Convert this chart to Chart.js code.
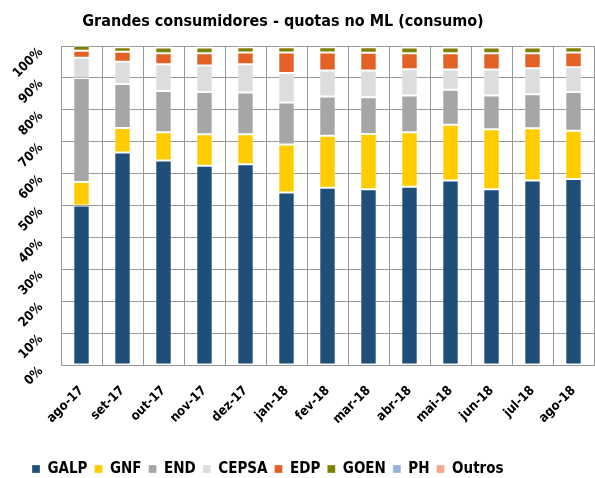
<!DOCTYPE html>
<html>
<head>
<meta charset="utf-8">
<script src="https://cdn.jsdelivr.net/npm/chart.js@4"></script>
<style>
html,body{margin:0;padding:0;background:#fff;}
#wrap{width:595px;height:478px;}
</style>
</head>
<body>
<div id="wrap"><canvas id="c" width="595" height="478"></canvas></div>
<script>
const categories = ['ago-17','set-17','out-17','nov-17','dez-17','jan-18','fev-18','mar-18','abr-18','mai-18','jun-18','jul-18','ago-18'];
const GALP   = [50.0, 66.6, 64.1, 62.5, 62.9, 54.1, 55.6, 55.1, 55.9, 57.8, 55.1, 57.8, 58.3];
const GNF    = [ 7.4,  7.7,  8.9,  9.8,  9.4, 15.0, 16.3, 17.3, 17.1, 17.5, 18.8, 16.4, 15.1];
const END    = [32.6, 13.8, 12.9, 13.3, 13.1, 13.2, 12.3, 11.5, 11.5, 11.0, 10.6, 10.7, 12.2];
const CEPSA  = [ 6.3,  7.0,  8.4,  8.3,  8.9,  9.2,  8.1,  8.4,  8.2,  6.3,  8.1,  8.1,  7.7];
const EDP    = [ 2.2,  3.1,  3.4,  3.8,  3.7,  6.5,  5.7,  5.6,  5.0,  5.1,  5.1,  4.7,  4.7];
const GOEN   = [ 1.5,  1.4,  1.8,  1.8,  1.6,  1.6,  1.6,  1.7,  1.8,  1.8,  1.8,  1.8,  1.6];
const PH     = [ 0.0,  0.0,  0.0,  0.0,  0.0,  0.0,  0.0,  0.0,  0.0,  0.0,  0.0,  0.5,  0.4];
const Outros = [ 0.0,  0.4,  0.5,  0.5,  0.4,  0.4,  0.4,  0.4,  0.5,  0.5,  0.5,  0.0,  0.0];
const yTicks = [0,10,20,30,40,50,60,70,80,90,100];
const titleText = 'Grandes consumidores - quotas no ML (consumo)';

const FONT = "'DejaVu Sans Condensed','Liberation Sans Narrow','Arial Narrow',sans-serif";
const series = [
  ['GALP', GALP, '#1F4E79'],
  ['GNF', GNF, '#FFCC00'],
  ['END', END, '#A6A6A6'],
  ['CEPSA', CEPSA, '#DDDDDD'],
  ['EDP', EDP, '#E46125'],
  ['GOEN', GOEN, '#808000'],
  ['PH', PH, '#95B3D7'],
  ['Outros', Outros, '#F4A98A']
];

const LEG_PAD = 7;
const posPlugin = {
  id: 'pos',
  afterLayout(chart) {
    if (chart.titleBlock) { chart.titleBlock.left = 0; chart.titleBlock.right = 566; }
    if (chart.legend) { chart.legend.left = 32 - LEG_PAD; chart.legend.top += 8.5; }
  }
};

new Chart(document.getElementById('c'), {
  type: 'bar',
  data: {
    labels: categories,
    datasets: series.map(s => ({
      label: s[0], data: s[1], backgroundColor: s[2],
      borderColor: 'rgba(255,255,255,0.3)', borderWidth: 1, borderSkipped: false,
      categoryPercentage: 1.0, barPercentage: 0.4
    }))
  },
  plugins: [posPlugin],
  options: {
    responsive: false,
    animation: false,
    layout: { padding: { left: 0, right: 1, top: 0, bottom: 0 } },
    plugins: {
      title: {
        display: true, text: titleText, color: '#000',
        font: { family: FONT, size: 16, weight: 'bold' },
        padding: { top: 12, bottom: 14.8 }
      },
      legend: {
        position: 'bottom', align: 'start',
        labels: {
          boxWidth: 8, boxHeight: 8, padding: LEG_PAD, color: '#000',
          font: { family: FONT, size: 15, weight: 'bold' }
        }
      },
      tooltip: { enabled: false }
    },
    scales: {
      x: {
        stacked: true,
        grid: { color: '#999', lineWidth: 1, drawTicks: false, offset: true },
        border: { color: '#999' },
        ticks: {
          color: '#000', minRotation: 45, maxRotation: 45, padding: 18,
          font: { family: FONT, size: 13, weight: 'bold' }
        },
        afterFit(s) { s.height = 81; s.paddingRight = 0; s.paddingLeft = 0; }
      },
      y: {
        stacked: true, min: 0, max: 100,
        afterBuildTicks(s) { s.ticks = yTicks.map(v => ({ value: v })); },
        grid: { color: '#999', lineWidth: 1, drawTicks: false },
        border: { color: '#999' },
        ticks: {
          color: '#000', minRotation: 45, maxRotation: 45, padding: 20, labelOffset: 4,
          font: { family: FONT, size: 13, weight: 'bold' },
          callback: v => v + '%'
        },
        afterFit(s) { s.width = 61; }
      }
    }
  }
});
</script>
</body>
</html>
